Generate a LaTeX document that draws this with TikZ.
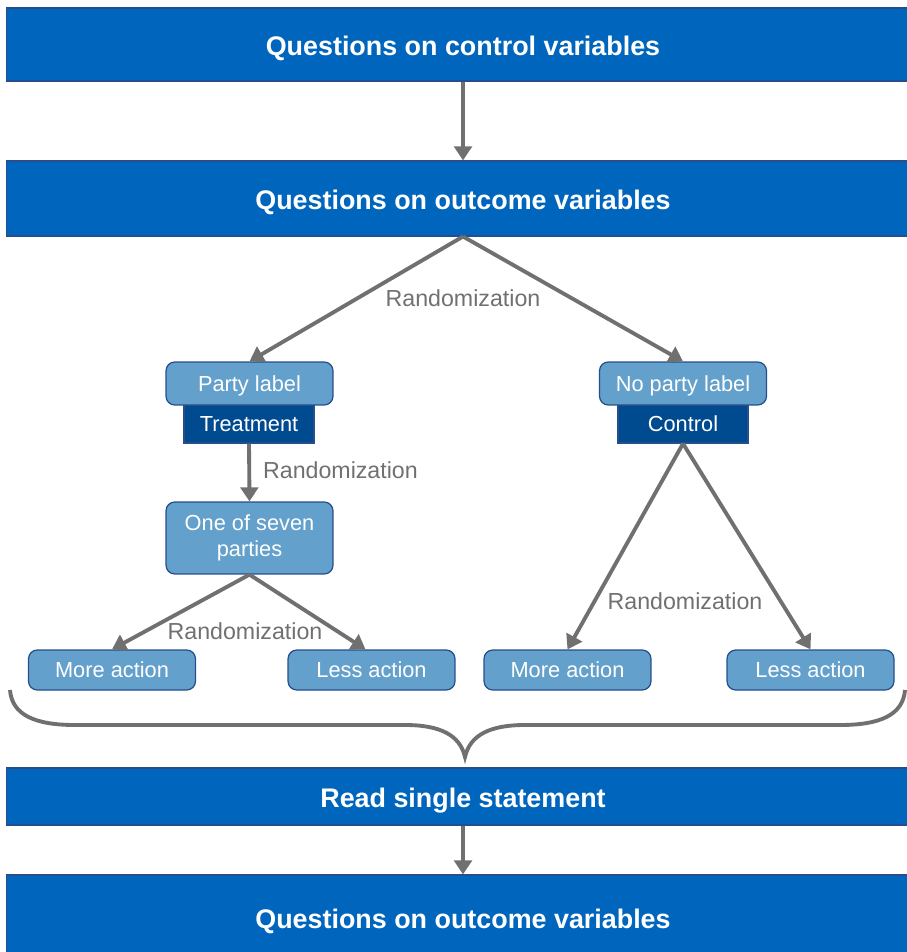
\documentclass[tikz,border=0pt]{standalone}
\usepackage{fontspec}
\setmainfont{Liberation Sans}
\usetikzlibrary{positioning,arrows.meta,calc}
\definecolor{barblue}{RGB}{0,102,189}
\definecolor{barline}{RGB}{38,78,140}
\definecolor{lightblue}{RGB}{99,160,203}
\definecolor{darkblue}{RGB}{0,74,143}
\definecolor{connGray}{RGB}{112,112,112}

\tikzset{
  bar/.style={rectangle, fill=barblue, draw=barline, line width=0.6pt, text=white,
    font=\bfseries\fontsize{15.3}{18}\selectfont, minimum width=18.28cm, inner sep=0pt,
    text height=16pt, text depth=3pt},
  lightbox/.style={rectangle, rounded corners=5pt, fill=lightblue, draw=barline, line width=0.7pt,
    text=white, font=\fontsize{12.4}{15}\selectfont, minimum width=3.34cm, inner sep=0pt, align=center},
  onebox/.style={lightbox, text height=12pt, text depth=3pt},
  darkbox/.style={rectangle, fill=darkblue, draw=barline, line width=0.7pt, text=white,
    font=\fontsize{12.4}{15}\selectfont, minimum width=2.6cm, minimum height=0.76cm, inner sep=0pt,
    text height=11pt, text depth=3pt},
  conn/.style={draw=connGray, line width=2.2pt, -{Triangle[length=8pt,width=10pt]}},
  randlabel/.style={text=connGray, font=\fontsize{13.2}{16}\selectfont, inner sep=1pt},
}

\begin{document}
\begin{tikzpicture}[x=0.02cm, y=-0.02cm]
\useasboundingbox (0,0) rectangle (906,952);

% bars
\node[bar, minimum height=1.46cm] (ctrlq) at (463,44.5) {Questions on control variables};
\node[bar, minimum height=1.5cm] (outq) at (463,198.5) {Questions on outcome variables};
\node[bar, minimum height=1.14cm] (readst) at (463,796.5) {Read single statement};
\node[bar, minimum height=1.7cm] (outq2) at (463,917.5) {Questions on outcome variables};

% treatment branch
\node[darkbox] (treat) at (249,424) {Treatment};
\node[onebox, minimum height=0.86cm] (party) at (249.5,383.5) {Party label};
\node[lightbox, minimum height=1.44cm] (seven) at (249.5,538) {One of seven\\parties};
\node[onebox, minimum height=0.8cm] (moreL) at (112,670) {More action};
\node[onebox, minimum height=0.8cm] (lessL) at (371.5,670) {Less action};

% control branch
\node[darkbox] (control) at (683,424) {Control};
\node[onebox, minimum height=0.86cm] (noparty) at (683,383.5) {No party label};
\node[onebox, minimum height=0.8cm] (moreR) at (567.5,670) {More action};
\node[onebox, minimum height=0.8cm] (lessR) at (810.5,670) {Less action};

% connectors
\draw[conn] (ctrlq.south) -- (outq.north);
\draw[conn] (outq.south) -- (party.north);
\draw[conn] (outq.south) -- (noparty.north);
\draw[conn] (treat.south) -- (seven.north);
\draw[conn] (seven.south) -- (moreL.north);
\draw[conn] (seven.south) -- ($(lessL.north)+(-6,0)$);
\draw[conn] (control.south) -- (moreR.north);
\draw[conn] (control.south) -- (lessR.north);
\draw[conn] (readst.south) -- (outq2.north);

% labels
\node[randlabel] (rand1) at (463,298) {Randomization};
\node[randlabel, anchor=west] (rand2) at (261,470) {Randomization};
\node[randlabel] (rand3) at (245,631) {Randomization};
\node[randlabel] (rand4) at (685,601) {Randomization};

% brace
\draw[connGray, line width=2.2pt]
  (10,690) .. controls (12,715) and (35,725) .. (75,725) -- (405,725)
  .. controls (440,725) and (460,735) .. (465,757)
  .. controls (470,735) and (490,725) .. (525,725) -- (840,725)
  .. controls (880,725) and (903,715) .. (905,690);
\end{tikzpicture}
\end{document}
